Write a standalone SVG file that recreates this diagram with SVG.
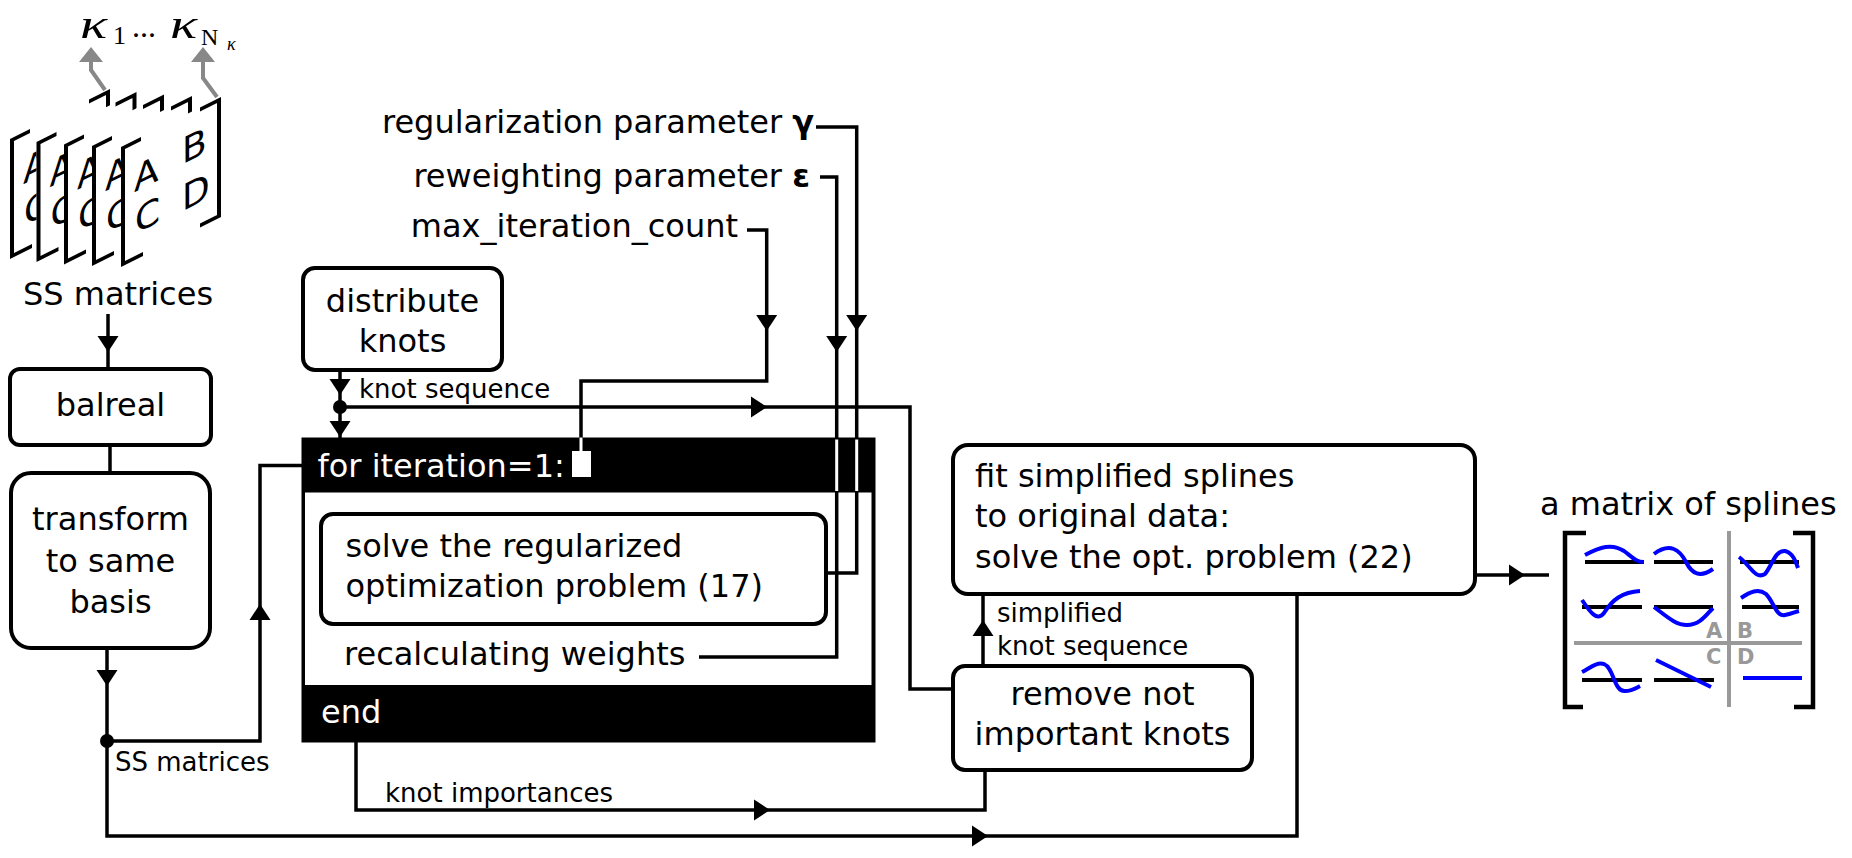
<svg xmlns="http://www.w3.org/2000/svg" xmlns:xlink="http://www.w3.org/1999/xlink" width="1852" height="858" viewBox="0 0 1852 858">
<style>
.box{fill:#fff;stroke:#000;stroke-width:4}
.ln{fill:none;stroke:#000;stroke-width:3.5}
.wl{fill:none;stroke:#fff;stroke-width:3}
.gl{fill:none;stroke:#888;stroke-width:4}
.t{font-family:"DejaVu Sans","Liberation Sans",sans-serif;font-size:32px;fill:#000}
.s{font-size:26px}
.w{fill:#fff}
.m{font-family:"Liberation Serif","DejaVu Serif",serif}
.mb{fill:#fff;stroke:none}
.br{fill:none;stroke:#000;stroke-width:4}
.ax{fill:none;stroke:#000;stroke-width:4}
.bl{fill:none;stroke:#0000ff;stroke-width:4}
.gr{fill:none;stroke:#999;stroke-width:4}
.gt{font-family:"DejaVu Sans",sans-serif;font-size:21px;font-weight:bold;fill:#999}
.ml{font-family:"DejaVu Sans",sans-serif;font-size:36px;fill:#000}
</style>
<defs>
<path id="ah" d="M0,0 L-16,-10.5 L-16,10.5 Z" fill="#000"/>
<path id="gah" d="M0,0 L-15,-12 L-15,12 Z" fill="#888"/>
<g id="mat">
<rect class="mb" x="-2" y="-2" width="100" height="119"/>
<polyline class="br" points="18,0 0,0 0,116 20,116"/>
<polyline class="br" points="77,0 96,0 96,116 77,116"/>
<text class="ml" x="11" y="50">A</text>
<text class="ml" x="12" y="92">C</text>
</g>
</defs>

<!-- state space matrices stack -->
<g id="ss-stack">
<use xlink:href="#mat" transform="translate(12,140) skewY(-26.57)"/>
<use xlink:href="#mat" transform="translate(38.5,143) skewY(-26.57)"/>
<use xlink:href="#mat" transform="translate(66,145.5) skewY(-26.57)"/>
<use xlink:href="#mat" transform="translate(94,147) skewY(-26.57)"/>
<g transform="translate(123,148) skewY(-26.57)">
<use xlink:href="#mat"/>
<text class="ml" x="59" y="46">B</text>
<text class="ml" x="59" y="93">D</text>
</g>
<path class="gl" d="M105,90 L91,70 V60"/>
<use xlink:href="#gah" transform="translate(91,47) rotate(-90)"/>
<path class="gl" d="M217,97 L203,78 V60"/>
<use xlink:href="#gah" transform="translate(203,47) rotate(-90)"/>
<text class="m" font-style="italic" font-size="42" transform="translate(80,38) scale(1.35,1)">κ</text>
<text class="m" font-size="26" x="113" y="44">1</text>
<text class="m" font-size="32" x="132" y="37">...</text>
<text class="m" font-style="italic" font-size="42" transform="translate(170,38) scale(1.35,1)">κ</text>
<text class="m" font-size="24" x="201" y="45">N</text>
<text class="m" font-style="italic" font-size="18" x="227" y="50">κ</text>
<text class="t" x="118" y="305" text-anchor="middle">SS matrices</text>
</g>

<g id="loop">
<rect x="301.5" y="437.5" width="574" height="305" fill="#000"/>
<rect x="305" y="492.5" width="566.5" height="192.5" fill="#fff"/>
<text class="t w" x="317.5" y="477">for iteration=1:</text>
<rect x="572" y="451" width="19" height="26" fill="#fff"/>
<text class="t w" x="321" y="723">end</text>
<text class="t" x="344" y="665">recalculating weights</text>
</g>

<g id="connectors">
<path class="ln" d="M108,314 V369"/>
<use xlink:href="#ah" transform="translate(108,352) rotate(90)"/>
<path class="ln" d="M110,445 V473"/>
<path class="ln" d="M107,648 V741"/>
<use xlink:href="#ah" transform="translate(107,686) rotate(90)"/>
<path class="ln" d="M107,741 H260 V465.5 H302"/>
<use xlink:href="#ah" transform="translate(260,604) rotate(-90)"/>
<path class="ln" d="M107,741 V836 H1297 V594"/>
<use xlink:href="#ah" transform="translate(988,836)"/>
<path class="ln" d="M340,370 V438"/>
<use xlink:href="#ah" transform="translate(340,395) rotate(90)"/>
<use xlink:href="#ah" transform="translate(340,437) rotate(90)"/>
<path class="ln" d="M340,407 H910 V689 H953"/>
<use xlink:href="#ah" transform="translate(767,407)"/>
<path class="ln" d="M747,230 H766.7 V381 H581 V438"/>
<use xlink:href="#ah" transform="translate(766.7,331) rotate(90)"/>
<path class="ln" d="M820,177 H836.7 V657 H699"/>
<use xlink:href="#ah" transform="translate(836.7,352) rotate(90)"/>
<path class="ln" d="M816,127 H856.7 V573 H826"/>
<use xlink:href="#ah" transform="translate(856.7,331) rotate(90)"/>
<path class="ln" d="M356,742 V810 H985 V770"/>
<use xlink:href="#ah" transform="translate(770,810)"/>
<path class="ln" d="M983,666 V594"/>
<use xlink:href="#ah" transform="translate(983,620) rotate(-90)"/>
<path class="ln" d="M1475,575 H1549"/>
<use xlink:href="#ah" transform="translate(1525,575)"/>
<circle cx="107" cy="741" r="7"/>
<circle cx="340" cy="407" r="7"/>
<path class="wl" d="M581,437.5 V452 M836.7,439.5 V491 M856.7,439.5 V491"/>
<text class="t s" x="359" y="398">knot sequence</text>
<text class="t s" x="115" y="771">SS matrices</text>
<text class="t s" x="385" y="802">knot importances</text>
<text class="t s" x="997" y="622">simplified</text>
<text class="t s" x="997" y="655">knot sequence</text>
</g>

<g id="params">
<text class="t" x="814" y="133" text-anchor="end">regularization parameter <tspan font-weight="bold">γ</tspan></text>
<text class="t" x="810" y="187" text-anchor="end">reweighting parameter <tspan font-weight="bold">ε</tspan></text>
<text class="t" x="738" y="237" text-anchor="end">max_iteration_count</text>
</g>

<g id="balreal">
<rect class="box" x="10" y="369" width="201" height="76" rx="10"/>
<text class="t" x="110.5" y="416" text-anchor="middle">balreal</text>
</g>

<g id="transform">
<rect class="box" x="11" y="473" width="199" height="175" rx="20"/>
<text class="t" x="110.5" y="530" text-anchor="middle">transform</text>
<text class="t" x="110.5" y="572" text-anchor="middle">to same</text>
<text class="t" x="110.5" y="613" text-anchor="middle">basis</text>
</g>

<g id="distribute">
<rect class="box" x="303" y="268" width="199" height="102" rx="12"/>
<text class="t" x="402.5" y="312" text-anchor="middle">distribute</text>
<text class="t" x="402.5" y="352" text-anchor="middle">knots</text>
</g>

<g id="solve">
<rect class="box" x="321" y="514" width="505" height="110" rx="12"/>
<text class="t" x="345.5" y="557">solve the regularized</text>
<text class="t" x="345.5" y="597">optimization problem (17)</text>
</g>

<g id="fit">
<rect class="box" x="953" y="445" width="522" height="149" rx="15"/>
<text class="t" x="975" y="487">fit simplified splines</text>
<text class="t" x="975" y="527">to original data:</text>
<text class="t" x="975" y="568">solve the opt. problem (22)</text>
</g>

<g id="remove">
<rect class="box" x="953" y="666" width="299" height="104" rx="12"/>
<text class="t" x="1102.5" y="705" text-anchor="middle">remove not</text>
<text class="t" x="1102.5" y="745" text-anchor="middle">important knots</text>
</g>

<g id="spline-matrix">
<text class="t" x="1540" y="515">a matrix of splines</text>
<path class="br" style="stroke-width:4.5" d="M1586,533 H1565 V707 H1583"/>
<path class="br" style="stroke-width:4.5" d="M1793,533 H1813 V707 H1794"/>
<path class="gr" d="M1729,531 V707 M1574,643 H1802"/>
<text class="gt" x="1706" y="638">A</text>
<text class="gt" x="1737" y="638">B</text>
<text class="gt" x="1706" y="664">C</text>
<text class="gt" x="1737" y="664">D</text>
<path class="ax" d="M1585,562 H1644 M1654,562 H1713 M1740,562 H1799 M1582,607 H1642 M1654,607 H1713 M1742,607 H1799 M1582,680 H1642 M1654,680 H1714"/>
<path class="bl" d="M1585,555 C1600,547 1612,543 1624,551 C1632,557 1636,562 1644,562"/>
<path class="bl" d="M1654,554 C1670,542 1680,550 1686,562 C1692,574 1700,578 1713,569"/>
<path class="bl" d="M1739,557 C1750,565 1755,580 1765,574 C1772,566 1775,550 1785,551 C1793,553 1796,562 1798,568"/>
<path class="bl" d="M1582,600 C1590,612 1597,622 1604,613 C1612,600 1622,592 1640,591"/>
<path class="bl" d="M1654,607 C1665,615 1675,625 1687,625 C1700,625 1706,615 1713,608"/>
<path class="bl" d="M1741,598 C1750,592 1758,588 1766,594 C1774,602 1776,617 1785,615 C1791,614 1795,612 1799,611"/>
<path class="bl" d="M1582,672 C1590,668 1596,662 1604,664 C1614,668 1614,692 1625,691 C1632,691 1636,688 1640,686"/>
<path class="bl" d="M1656,660 L1711,687 M1743,678 H1802"/>
</g>
</svg>
